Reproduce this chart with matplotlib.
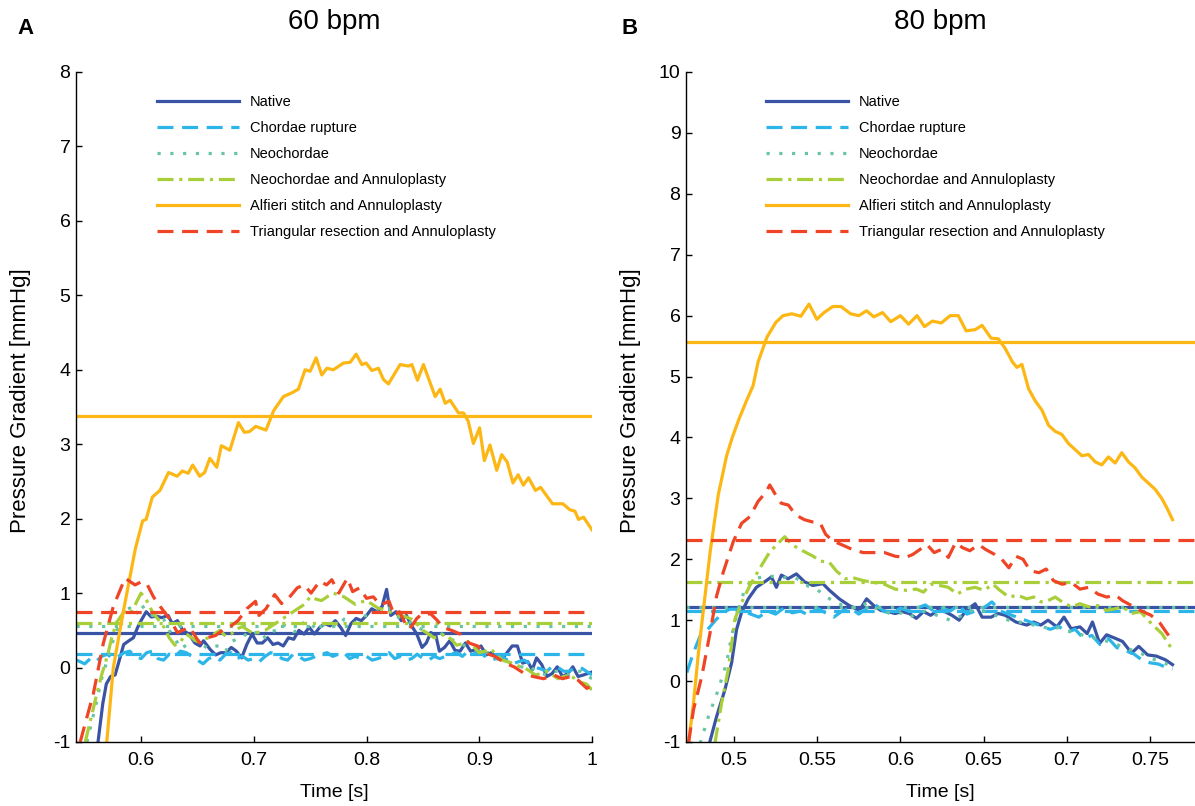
import matplotlib
matplotlib.use("Agg")
import matplotlib.pyplot as plt

plt.rcParams['font.family'] = ['Liberation Sans', 'DejaVu Sans']
plt.rcParams['axes.unicode_minus'] = False

# ---------------- data ----------------
labels = ["Native", "Chordae rupture", "Neochordae", "Neochordae and Annuloplasty",
          "Alfieri stitch and Annuloplasty", "Triangular resection and Annuloplasty"]
colors = ["#3a54a5", "#2bb5e8", "#67c5a3", "#a8cf3a", "#fdb714", "#ef4526"]

# ---- 60 bpm ----
t60_native = [0.5615, 0.566, 0.5692, 0.573, 0.577, 0.580, 0.5846, 0.5892, 0.5932, 0.597, 0.600, 0.6046, 0.609, 0.6138,
              0.6185, 0.624, 0.6277, 0.6323, 0.637, 0.6425, 0.6477, 0.6523, 0.6554, 0.6615, 0.6662, 0.6708, 0.6754, 0.680,
              0.6846, 0.6892, 0.6938, 0.6985, 0.703, 0.7077, 0.7123, 0.717, 0.7215, 0.7262, 0.7308, 0.7354, 0.740, 0.7446,
              0.7492, 0.7538, 0.7585, 0.763, 0.7677, 0.7723, 0.777, 0.7815, 0.7862, 0.7908, 0.7954, 0.800, 0.8046, 0.8092,
              0.8138, 0.8178, 0.8215, 0.8262, 0.8308, 0.8354, 0.840, 0.8446, 0.8492, 0.853, 0.857, 0.8615, 0.8646, 0.8692,
              0.8738, 0.8785, 0.883, 0.8877, 0.8923, 0.897, 0.9015, 0.9062, 0.9108, 0.9154, 0.920, 0.9246, 0.9292, 0.9338,
              0.9385, 0.943, 0.947, 0.9508, 0.9554, 0.960, 0.9646, 0.9692, 0.9738, 0.9785, 0.983, 0.9877, 0.9923, 1.0]
p60_native = [-1.04, -0.49, -0.22, -0.12, -0.10, 0.06, 0.31, 0.36, 0.40, 0.54, 0.63, 0.75, 0.68, 0.69,
              0.67, 0.70, 0.59, 0.63, 0.50, 0.45, 0.33, 0.29, 0.36, 0.24, 0.17, 0.20, 0.20, 0.27,
              0.22, 0.13, 0.31, 0.45, 0.33, 0.33, 0.40, 0.31, 0.33, 0.29, 0.40, 0.38, 0.50, 0.45,
              0.54, 0.45, 0.54, 0.59, 0.56, 0.63, 0.54, 0.43, 0.59, 0.66, 0.63, 0.70, 0.79, 0.75,
              0.82, 1.05, 0.70, 0.75, 0.63, 0.70, 0.56, 0.45, 0.27, 0.33, 0.47, 0.43, 0.22, 0.27,
              0.36, 0.23, 0.22, 0.33, 0.22, 0.24, 0.29, 0.17, 0.20, 0.13, 0.11, 0.20, 0.29, 0.29,
              0.06, 0.08, -0.03, 0.13, 0.04, -0.12, -0.08, 0.01, -0.12, -0.08, 0.01, -0.12, -0.10, -0.06]

t60_chordae = [0.543, 0.55, 0.555, 0.56, 0.565, 0.57, 0.575, 0.58, 0.585, 0.59, 0.595, 0.60, 0.605, 0.61, 0.615, 0.62,
               0.625, 0.63, 0.635, 0.64, 0.645, 0.65, 0.655, 0.66, 0.665, 0.67, 0.675, 0.68, 0.685, 0.69, 0.695, 0.70,
               0.705, 0.71, 0.715, 0.72, 0.725, 0.73, 0.735, 0.74, 0.745, 0.75, 0.755, 0.76, 0.765, 0.77, 0.775, 0.78,
               0.785, 0.79, 0.795, 0.80, 0.805, 0.81, 0.815, 0.82, 0.825, 0.83, 0.835, 0.84, 0.845, 0.85, 0.855, 0.86,
               0.865, 0.87, 0.875, 0.88, 0.885, 0.89, 0.895, 0.90, 0.905, 0.91, 0.915, 0.92, 0.925, 0.93, 0.935, 0.94,
               0.945, 0.95, 0.955, 0.96, 0.965, 0.97, 0.975, 0.98, 0.985, 0.99, 0.995, 1.0]
p60_chordae = [0.10, 0.05, 0.12, 0.08, 0.15, 0.18, 0.12, 0.15, 0.20, 0.22, 0.15, 0.12, 0.20, 0.22, 0.12, 0.10,
               0.18, 0.15, 0.22, 0.20, 0.15, 0.10, 0.05, 0.12, 0.15, 0.10, 0.18, 0.20, 0.12, 0.15, 0.10, 0.12,
               0.08, 0.15, 0.20, 0.18, 0.12, 0.10, 0.18, 0.15, 0.10, 0.12, 0.15, 0.18, 0.20, 0.15, 0.18, 0.20,
               0.12, 0.15, 0.12, 0.15, 0.10, 0.12, 0.15, 0.20, 0.12, 0.15, 0.10, 0.12, 0.18, 0.12, 0.10, 0.15,
               0.12, 0.15, 0.18, 0.20, 0.15, 0.22, 0.18, 0.22, 0.15, 0.10, 0.12, 0.15, 0.10, 0.05, 0.08, 0.10,
               0.05, 0.0, -0.02, -0.05, 0.02, 0.0, -0.05, -0.05, 0.0, 0.0, -0.05, -0.10]

t60_neo = [0.552, 0.56, 0.565, 0.57, 0.575, 0.58, 0.585, 0.59, 0.595, 0.60, 0.605, 0.61, 0.615, 0.62, 0.625, 0.63,
           0.635, 0.64, 0.645, 0.65, 0.655, 0.66, 0.665, 0.67, 0.675, 0.68, 0.685, 0.69, 0.695, 0.70, 0.705, 0.71,
           0.715, 0.72, 0.725, 0.73, 0.735, 0.74, 0.745, 0.75, 0.755, 0.76, 0.765, 0.77, 0.775, 0.78, 0.785, 0.79,
           0.795, 0.80, 0.805, 0.81, 0.815, 0.82, 0.825, 0.83, 0.835, 0.84, 0.845, 0.85, 0.855, 0.86, 0.865, 0.87,
           0.875, 0.88, 0.885, 0.89, 0.895, 0.90, 0.905, 0.91, 0.915, 0.92, 0.925, 0.93, 0.935, 0.94, 0.945, 0.95,
           0.955, 0.96, 0.965, 0.97, 0.975, 0.98, 0.985, 0.99, 0.995, 1.0]
p60_neo = [-1.0, -0.5, -0.15, 0.1, 0.35, 0.55, 0.75, 0.80, 0.70, 0.85, 0.75, 0.70, 0.68, 0.65, 0.50, 0.40,
           0.25, 0.30, 0.38, 0.35, 0.30, 0.25, 0.28, 0.30, 0.22, 0.35, 0.38, 0.40, 0.48, 0.45, 0.50, 0.40,
           0.48, 0.50, 0.58, 0.55, 0.48, 0.50, 0.62, 0.60, 0.52, 0.55, 0.62, 0.60, 0.55, 0.65, 0.62, 0.60,
           0.68, 0.70, 0.72, 0.75, 0.78, 0.80, 0.72, 0.65, 0.62, 0.60, 0.55, 0.50, 0.42, 0.45, 0.48, 0.40,
           0.38, 0.35, 0.30, 0.30, 0.25, 0.25, 0.20, 0.20, 0.12, 0.10, 0.08, 0.05, 0.02, 0.0, 0.02, -0.05,
           -0.08, -0.10, -0.05, -0.05, -0.08, -0.10, -0.05, -0.05, -0.10, -0.15]

t60_neoann = [0.5505, 0.56, 0.565, 0.57, 0.574, 0.578, 0.585, 0.59, 0.595, 0.60, 0.605, 0.61, 0.615, 0.62, 0.625,
              0.63, 0.635, 0.64, 0.645, 0.65, 0.655, 0.66, 0.665, 0.67, 0.675, 0.68, 0.685, 0.69, 0.695, 0.70,
              0.705, 0.71, 0.715, 0.72, 0.725, 0.73, 0.735, 0.74, 0.745, 0.75, 0.755, 0.76, 0.765, 0.77, 0.775,
              0.78, 0.785, 0.79, 0.795, 0.80, 0.805, 0.81, 0.815, 0.82, 0.825, 0.83, 0.835, 0.84, 0.845, 0.85,
              0.855, 0.86, 0.865, 0.87, 0.875, 0.88, 0.885, 0.89, 0.895, 0.90, 0.905, 0.91, 0.915, 0.92, 0.925,
              0.93, 0.935, 0.94, 0.945, 0.95, 0.955, 0.96, 0.965, 0.97, 0.975, 0.98, 0.985, 0.99, 0.995, 1.0]
p60_neoann = [-1.0, -0.4, -0.1, 0.15, 0.40, 0.60, 0.75, 0.72, 0.85, 1.0, 0.90, 0.75, 0.65, 0.55, 0.40,
              0.30, 0.35, 0.45, 0.40, 0.35, 0.38, 0.40, 0.45, 0.50, 0.42, 0.45, 0.52, 0.55, 0.50, 0.45,
              0.48, 0.50, 0.55, 0.60, 0.65, 0.70, 0.75, 0.80, 0.85, 0.95, 0.92, 0.90, 0.95, 1.0, 0.98,
              0.95, 0.90, 0.85, 0.88, 0.90, 0.85, 0.80, 0.78, 0.75, 0.72, 0.70, 0.68, 0.65, 0.58, 0.50,
              0.45, 0.40, 0.42, 0.45, 0.38, 0.30, 0.32, 0.35, 0.28, 0.20, 0.22, 0.25, 0.18, 0.10, 0.08,
              0.05, 0.02, 0.0, -0.05, -0.10, -0.08, -0.05, -0.10, -0.15, -0.12, -0.10, -0.15, -0.20, -0.22, -0.30]

t60_alfieri = [0.566, 0.5696, 0.5754, 0.5829, 0.5893, 0.595, 0.6014, 0.6045, 0.610, 0.6168, 0.6244, 0.632, 0.6366,
               0.6418, 0.6458, 0.652, 0.6564, 0.661, 0.6672, 0.6712, 0.6788, 0.6864, 0.6916, 0.6962, 0.7017, 0.7108,
               0.7176, 0.7263, 0.7337, 0.7396, 0.7455, 0.750, 0.7553, 0.7603, 0.7648, 0.7706, 0.7795, 0.7855, 0.7908,
               0.7958, 0.7997, 0.8047, 0.8106, 0.815, 0.8194, 0.8298, 0.8372, 0.8402, 0.8452, 0.8505, 0.8609, 0.8653,
               0.8698, 0.8742, 0.8816, 0.886, 0.8902, 0.8948, 0.9003, 0.9045, 0.9095, 0.9155, 0.9199, 0.9248, 0.9299,
               0.9345, 0.9391, 0.9437, 0.9498, 0.9544, 0.965, 0.9742, 0.9803, 0.9849, 0.988, 0.9925, 1.0]
p60_alfieri = [-1.6, -1.0, 0.0, 0.64, 1.15, 1.6, 1.97, 1.99, 2.29, 2.38, 2.62, 2.57, 2.64,
               2.61, 2.72, 2.57, 2.62, 2.81, 2.69, 2.98, 2.92, 3.29, 3.16, 3.17, 3.24, 3.19,
               3.45, 3.64, 3.69, 3.74, 4.00, 3.98, 4.16, 3.93, 4.02, 4.00, 4.09, 4.10, 4.21,
               4.07, 4.09, 3.99, 4.02, 3.87, 3.81, 4.07, 4.05, 4.07, 3.86, 4.07, 3.64, 3.74,
               3.55, 3.59, 3.42, 3.42, 3.31, 3.01, 3.22, 2.78, 2.99, 2.65, 2.86, 2.76, 2.48,
               2.59, 2.45, 2.55, 2.38, 2.42, 2.20, 2.20, 2.12, 2.10, 1.99, 2.02, 1.85]

t60_tri = [0.546, 0.5577, 0.5666, 0.5754, 0.5858, 0.5947, 0.600, 0.605, 0.611, 0.617, 0.626, 0.6323, 0.643, 0.652,
           0.6585, 0.666, 0.674, 0.680, 0.686, 0.6938, 0.7015, 0.7046, 0.7108, 0.7185, 0.7246, 0.7308, 0.7385,
           0.7446, 0.7508, 0.7585, 0.7646, 0.7692, 0.7754, 0.783, 0.7877, 0.7938, 0.800, 0.806, 0.8123, 0.820,
           0.8246, 0.8292, 0.8338, 0.8385, 0.8446, 0.8492, 0.857, 0.863, 0.8677, 0.8754, 0.883, 0.8908, 0.8985,
           0.9046, 0.9138, 0.923, 0.9308, 0.940, 0.9477, 0.957, 0.966, 0.9738, 0.9815, 0.9877, 0.9954, 1.0]
p60_tri = [-1.0, -0.35, 0.33, 0.82, 1.20, 1.11, 1.15, 1.13, 0.95, 0.82, 0.64, 0.47, 0.54, 0.33,
           0.40, 0.43, 0.52, 0.56, 0.63, 0.79, 0.89, 0.70, 0.79, 0.98, 0.86, 0.93, 1.07,
           1.11, 1.00, 1.16, 1.11, 1.18, 1.00, 1.20, 1.02, 1.07, 0.93, 0.95, 0.84, 0.89,
           0.70, 0.75, 0.61, 0.52, 0.66, 0.72, 0.72, 0.63, 0.54, 0.50, 0.45, 0.33, 0.29,
           0.20, 0.15, 0.06, 0.01, -0.08, -0.12, -0.15, -0.10, -0.15, -0.12, -0.17, -0.28, -0.24]

mean60 = [0.47, 0.18, 0.56, 0.60, 3.38, 0.75]

# ---- 80 bpm ----
t80_native = [0.4853, 0.4896, 0.4946, 0.4986, 0.5016, 0.5046, 0.5086, 0.5135, 0.5195, 0.5225, 0.5255, 0.5285, 0.5325,
              0.5375, 0.5424, 0.5474, 0.5534, 0.5574, 0.5633, 0.5693, 0.5754, 0.5797, 0.584, 0.5882, 0.5925, 0.5968,
              0.6011, 0.6053, 0.6096, 0.6139, 0.6182, 0.6224, 0.6267, 0.631, 0.6353, 0.6395, 0.6449, 0.6491, 0.6545,
              0.6588, 0.663, 0.6694, 0.6759, 0.6801, 0.6844, 0.6887, 0.694, 0.6983, 0.7026, 0.7079, 0.7122, 0.7154,
              0.7197, 0.7239, 0.7293, 0.7335, 0.7389, 0.7432, 0.7485, 0.7538, 0.7592, 0.7635]
p80_native = [-1.02, -0.58, -0.14, 0.30, 0.85, 1.13, 1.35, 1.54, 1.65, 1.71, 1.54, 1.74, 1.68,
              1.76, 1.63, 1.57, 1.60, 1.49, 1.35, 1.24, 1.16, 1.35, 1.24, 1.16, 1.14, 1.11,
              1.14, 1.11, 1.03, 1.14, 1.08, 1.16, 1.14, 1.08, 1.00, 1.16, 1.27, 1.05, 1.05,
              1.11, 1.08, 0.97, 0.92, 0.97, 0.92, 1.00, 0.89, 1.05, 0.86, 0.89, 0.78, 0.97,
              0.62, 0.76, 0.70, 0.65, 0.46, 0.57, 0.43, 0.41, 0.35, 0.27]

t80_chordae = [0.4717, 0.4757, 0.4797, 0.4837, 0.4886, 0.4936, 0.4976, 0.5036, 0.51, 0.515, 0.52, 0.525, 0.53, 0.535,
               0.54, 0.545, 0.55, 0.555, 0.56, 0.565, 0.57, 0.575, 0.58, 0.585, 0.59, 0.595, 0.60, 0.605, 0.61,
               0.615, 0.62, 0.625, 0.63, 0.635, 0.64, 0.645, 0.65, 0.655, 0.66, 0.665, 0.67, 0.675, 0.68, 0.685,
               0.69, 0.695, 0.70, 0.705, 0.71, 0.715, 0.72, 0.725, 0.73, 0.735, 0.74, 0.745, 0.75, 0.755, 0.76, 0.7635]
p80_chordae = [0.14, 0.47, 0.74, 0.83, 0.99, 1.13, 1.18, 1.18, 1.10, 1.05, 1.15, 1.10, 1.20, 1.12,
               1.15, 1.08, 1.20, 1.12, 1.05, 1.15, 1.20, 1.10, 1.20, 1.25, 1.15, 1.10, 1.20, 1.15, 1.20,
               1.25, 1.15, 1.20, 1.15, 1.25, 1.10, 1.15, 1.20, 1.30, 1.15, 1.10, 1.05, 1.00, 0.95, 0.90,
               0.85, 0.90, 0.80, 0.85, 0.70, 0.75, 0.60, 0.70, 0.55, 0.50, 0.45, 0.35, 0.30, 0.28, 0.22, 0.20]

t80_neo = [0.4797, 0.4847, 0.4906, 0.4956, 0.4986, 0.5016, 0.5066, 0.5116, 0.5175, 0.5225, 0.53, 0.535, 0.54, 0.545,
           0.55, 0.555, 0.56, 0.565, 0.57, 0.575, 0.58, 0.585, 0.59, 0.595, 0.60, 0.605, 0.61, 0.615, 0.62, 0.625,
           0.63, 0.635, 0.64, 0.645, 0.65, 0.655, 0.66, 0.665, 0.67, 0.675, 0.68, 0.685, 0.69, 0.695, 0.70, 0.705,
           0.71, 0.715, 0.72, 0.725, 0.73, 0.735, 0.74, 0.745, 0.75, 0.755, 0.76, 0.7635]
p80_neo = [-1.02, -0.58, -0.14, 0.30, 0.74, 1.07, 1.52, 1.68, 1.71, 1.72, 1.70, 1.72, 1.65, 1.55,
           1.50, 1.40, 1.30, 1.25, 1.20, 1.22, 1.28, 1.20, 1.15, 1.10, 1.12, 1.05, 1.10, 1.15, 1.10, 1.05,
           1.00, 1.05, 1.12, 1.18, 1.15, 1.10, 1.05, 1.00, 0.98, 0.95, 0.92, 0.90, 0.85, 0.88, 0.82, 0.80,
           0.75, 0.72, 0.68, 0.65, 0.60, 0.55, 0.50, 0.45, 0.38, 0.33, 0.28, 0.22]

t80_neoann = [0.4886, 0.4926, 0.4966, 0.5006, 0.5046, 0.5096, 0.5155, 0.5215, 0.5275, 0.5305, 0.5348, 0.5412, 0.5476,
              0.5519, 0.5573, 0.5615, 0.5669, 0.5712, 0.5776, 0.584, 0.5904, 0.5968, 0.6032, 0.6096, 0.6139, 0.6182,
              0.6235, 0.6288, 0.6342, 0.6395, 0.6449, 0.6502, 0.6556, 0.6598, 0.6652, 0.6705, 0.6759, 0.6801, 0.6844,
              0.6887, 0.693, 0.6972, 0.7026, 0.7079, 0.7132, 0.7186, 0.7239, 0.7293, 0.7335, 0.7389, 0.7442, 0.7506,
              0.7571, 0.7635]
p80_neoann = [-1.02, -0.36, 0.19, 1.02, 1.29, 1.57, 1.85, 2.12, 2.29, 2.37, 2.24, 2.14, 2.05,
              1.97, 1.95, 1.81, 1.68, 1.70, 1.65, 1.62, 1.59, 1.51, 1.49, 1.51, 1.46, 1.59,
              1.57, 1.54, 1.43, 1.51, 1.54, 1.49, 1.59, 1.49, 1.38, 1.41, 1.35, 1.38, 1.30,
              1.32, 1.38, 1.30, 1.22, 1.27, 1.22, 1.24, 1.16, 1.19, 1.22, 1.11, 1.14, 0.95,
              0.78, 0.51]

t80_alfieri = [0.4727, 0.4757, 0.4787, 0.4817, 0.4857, 0.4906, 0.4956, 0.4990, 0.5030, 0.5075, 0.5115, 0.5145, 0.5199,
               0.5252, 0.5295, 0.5348, 0.5402, 0.5451, 0.5498, 0.5541, 0.5594, 0.5643, 0.5701, 0.575, 0.5797, 0.584,
               0.5893, 0.5942, 0.600, 0.6049, 0.610, 0.6145, 0.6192, 0.6246, 0.6299, 0.6348, 0.6395, 0.6449, 0.6491,
               0.6545, 0.6588, 0.663, 0.6673, 0.670, 0.673, 0.677, 0.681, 0.685, 0.689, 0.693, 0.697, 0.701, 0.705,
               0.709, 0.713, 0.717, 0.721, 0.725, 0.729, 0.733, 0.737, 0.741, 0.745, 0.749, 0.753, 0.757, 0.760, 0.7635]
p80_alfieri = [-1.02, -0.36, 0.47, 1.18, 2.12, 3.06, 3.70, 4.00, 4.30, 4.60, 4.85, 5.24, 5.65,
               5.89, 6.00, 6.03, 5.99, 6.19, 5.94, 6.05, 6.15, 6.15, 6.03, 6.00, 6.08, 5.98,
               6.05, 5.90, 6.00, 5.86, 6.00, 5.82, 5.91, 5.88, 6.00, 6.00, 5.75, 5.77, 5.84,
               5.63, 5.62, 5.46, 5.24, 5.15, 5.20, 4.80, 4.60, 4.45, 4.20, 4.10, 4.05, 3.90, 3.80,
               3.70, 3.72, 3.60, 3.55, 3.68, 3.58, 3.75, 3.60, 3.50, 3.35, 3.25, 3.15, 3.00, 2.85, 2.65]

t80_tri = [0.4727, 0.4757, 0.4807, 0.4857, 0.4896, 0.4936, 0.4996, 0.5046, 0.5096, 0.5145, 0.5195, 0.5215, 0.5252,
           0.5284, 0.5327, 0.537, 0.5423, 0.5476, 0.5519, 0.5551, 0.5594, 0.5647, 0.5712, 0.5776, 0.584, 0.5904,
           0.5968, 0.6032, 0.6075, 0.6117, 0.616, 0.6203, 0.6246, 0.6288, 0.6331, 0.6374, 0.6417, 0.647, 0.6513,
           0.6566, 0.6609, 0.6652, 0.6694, 0.6737, 0.678, 0.6833, 0.6876, 0.6919, 0.6972, 0.7026, 0.7079, 0.7132,
           0.7186, 0.7239, 0.7293, 0.7335, 0.7389, 0.7442, 0.7506, 0.756, 0.7603, 0.7635]
p80_tri = [-1.02, -0.47, 0.08, 0.80, 1.40, 1.79, 2.29, 2.59, 2.70, 2.95, 3.11, 3.22, 3.05,
           2.92, 2.89, 2.73, 2.65, 2.61, 2.59, 2.41, 2.30, 2.24, 2.16, 2.11, 2.11, 2.11,
           2.05, 2.03, 2.08, 2.16, 2.24, 2.11, 2.16, 2.03, 2.27, 2.19, 2.14, 2.24, 2.16,
           2.08, 2.00, 1.86, 2.05, 2.00, 1.81, 1.78, 1.84, 1.65, 1.59, 1.62, 1.51, 1.54,
           1.43, 1.38, 1.41, 1.32, 1.24, 1.16, 1.08, 0.95, 0.78, 0.68]

mean80 = [1.21, 1.15, 1.22, 1.63, 5.57, 2.31]

series60 = [(t60_native, p60_native), (t60_chordae, p60_chordae), (t60_neo, p60_neo),
            (t60_neoann, p60_neoann), (t60_alfieri, p60_alfieri), (t60_tri, p60_tri)]
series80 = [(t80_native, p80_native), (t80_chordae, p80_chordae), (t80_neo, p80_neo),
            (t80_neoann, p80_neoann), (t80_alfieri, p80_alfieri), (t80_tri, p80_tri)]

xticks60 = [0.6, 0.7, 0.8, 0.9, 1.0]
xticklabels60 = ["0.6", "0.7", "0.8", "0.9", "1"]
xticks80 = [0.5, 0.55, 0.6, 0.65, 0.7, 0.75]
xticklabels80 = ["0.5", "0.55", "0.6", "0.65", "0.7", "0.75"]

# ---------------- styling ----------------
LW = 2.3
styles = ['-', (0, (5.0, 2.7)), (0, (1, 3.0)), (0, (5.0, 1.8, 1, 1.8)), '-', (0, (5.0, 2.7))]

W, H = 1195, 806
fig = plt.figure(figsize=(W / 100, H / 100), dpi=100)
top_px, bot_px = 72, 742
ax1 = fig.add_axes([76 / W, 1 - bot_px / H, (592 - 76) / W, (bot_px - top_px) / H])
ax2 = fig.add_axes([686 / W, 1 - bot_px / H, (W - 686) / W, (bot_px - top_px) / H])


def draw(ax, series, means, xlim, ylim, xt, xtl, title):
    handles = []
    for (t, p), m, c, ls, lab in zip(series, means, colors, styles, labels):
        h, = ax.plot(t, p, color=c, ls=ls, lw=LW, label=lab)
        ax.axhline(m, color=c, ls=ls, lw=LW)
        handles.append(h)
    ax.set_xlim(*xlim)
    ax.set_ylim(*ylim)
    ax.set_xticks(xt)
    ax.set_xticklabels(xtl)
    ax.set_yticks(range(ylim[0], ylim[1] + 1))
    for s in ['top', 'right']:
        ax.spines[s].set_visible(False)
    for s in ['left', 'bottom']:
        ax.spines[s].set_linewidth(1.0)
    ax.tick_params(direction='in', length=4, width=1.0, labelsize=14)
    ax.tick_params(axis='y', pad=4)
    ax.tick_params(axis='x', pad=7)
    ax.set_title(title, fontsize=20, pad=31)
    ax.set_xlabel("Time [s]", fontsize=14)
    ax.set_ylabel("Pressure Gradient [mmHg]", fontsize=16)
    ax.xaxis.set_label_coords(0.5, -0.062)
    ax.yaxis.set_label_coords(-0.088, 0.51)
    leg = ax.legend(handles=handles, loc='upper left', bbox_to_anchor=(0.157, 0.965),
                    frameon=False, fontsize=10.5, handlelength=5.6, handletextpad=0.75,
                    labelspacing=0.82, borderaxespad=0, borderpad=0)
    return leg


draw(ax1, series60, mean60, (0.5423, 1.0), (-1, 8), xticks60, xticklabels60, "60 bpm")
draw(ax2, series80, mean80, (0.4712, 0.777), (-1, 10), xticks80, xticklabels80, "80 bpm")

fig.text(25 / W, 1 - 28 / H, "A", fontsize=16, fontweight='bold', ha='center', va='center')
fig.text(630 / W, 1 - 28 / H, "B", fontsize=16, fontweight='bold', ha='center', va='center')

fig.savefig("out.png", dpi=100)
